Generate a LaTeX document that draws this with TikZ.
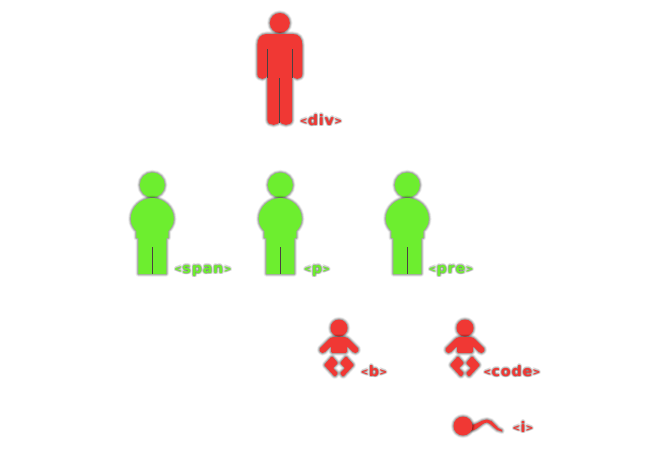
\documentclass[tikz,border=0pt]{standalone}
\usepackage{fontspec}
\setmainfont{DejaVu Sans}
\newfontfamily\tagfont[LetterSpace=5]{DejaVu Sans}
\definecolor{redperson}{RGB}{240,56,52}
\definecolor{greenperson}{RGB}{109,238,47}
\definecolor{splitline}{RGB}{75,65,65}
\tikzset{
 glow/.style={draw=none,
  preaction={draw=black,line join=round,line width=3.2pt,opacity=.04},
  preaction={draw=black,line join=round,line width=2.6pt,opacity=.06},
  preaction={draw=black,line join=round,line width=2.0pt,opacity=.09},
  preaction={draw=black,line join=round,line width=1.4pt,opacity=.11},
  preaction={draw=black,line join=round,line width=0.8pt,opacity=.13}},
 split/.style={draw=splitline,line width=0.5pt},
 tag/.style={font=\tagfont\bfseries\fontsize{8.2pt}{10pt}\selectfont,inner sep=0pt,anchor=base},
 pics/man/.style={code={
  \draw[glow,fill=#1](0,23) circle (10);
  \draw[glow,fill=#1](-13,34)--(13,34) .. controls (19,34) and (22.5,38) .. (22.5,45)--(22.5,74)
   .. controls (22.5,80.5) and (12.4,80.5) .. (12.4,74)--(12.4,120)
   .. controls (12.4,126.5) and (0,126.5) .. (0,120)
   .. controls (0,126.5) and (-12.4,126.5) .. (-12.4,120)--(-12.4,74)
   .. controls (-12.4,80.5) and (-22.5,80.5) .. (-22.5,74)--(-22.5,45) .. controls (-22.5,38) and (-19,34) .. (-13,34)--cycle;
  \draw[split](0,78)--(0,123);
  \draw[split](12.4,49)--(12.4,78);
  \draw[split](-12.4,49)--(-12.4,78);
 }},
 pics/kid/.style={code={
  \draw[glow,fill=greenperson](0,185) circle (12.5);
  \draw[glow,fill=greenperson](0,198) .. controls (11,198) and (21.5,207) .. (21.5,219)
   .. controls (21.5,225) and (18,229) .. (16,231)--(16,238)--(14,238)--(14,274)--(-14,274)--(-14,238)--(-16,238)--(-16,231)
   .. controls (-18,229) and (-21.5,225) .. (-21.5,219)
   .. controls (-21.5,207) and (-11,198) .. (0,198)--cycle;
  \draw[split](0,247)--(0,274);
 }},
 pics/baby/.style={code={
  \draw[glow,fill=redperson](0,328) circle (8.5);
  \draw[glow,fill=redperson,rounded corners=0.8pt](-7,337)--(7,337)--(10,339)--(20,349)--(18,353)--(15,353)--(8,346)
   --(8,353)--(-8,353)--(-8,346)--(-15,353)--(-18,353)--(-20,349)--(-10,339)--cycle;
  \draw[glow,fill=redperson,rounded corners=0.6pt](-7,356)--(-1,363)--(-6,368)--(-1,373)--(-4,377)--(-15,365)--cycle;
  \draw[glow,fill=redperson,rounded corners=0.6pt](7,356)--(1,363)--(6,368)--(1,373)--(4,377)--(15,365)--cycle;
 }}
}
\newcommand{\opn}{{\fontsize{5.6pt}{6pt}\selectfont\raisebox{0.5pt}{<}}}
\newcommand{\cls}{{\fontsize{5.6pt}{6pt}\selectfont\raisebox{0.5pt}{>}}}
\newcommand{\taglabel}[5]{
 \foreach \dx/\dy in {-1.2/0,1.2/0,0/-1.2,0/1.2,-1/-1,1/-1,-1/1,1/1}
  \node[tag,text=black,opacity=.11] at (#2+\dx,#3+\dy) {\opn#5\cls};
 \node[tag,text=#4] (#1) at (#2,#3) {\opn#5\cls};
}
\begin{document}
\begin{tikzpicture}[x=0.02cm,y=-0.02cm]
 \useasboundingbox (0,0) rectangle (650,450);
 \pic at (279.8,0) {man=redperson};
 \pic at (152.3,0) {kid};
 \pic at (280.3,0) {kid};
 \pic at (407.3,0) {kid};
 \pic at (339,0) {baby};
 \pic at (465,0) {baby};
 \draw[glow,fill=redperson](469,424) .. controls (476,427) and (480,419.5) .. (487,419.5)
  .. controls (494,419.5) and (496,429) .. (502,430) -- (502,431.5) .. controls (495,431.5) and (491,422.5) .. (487,422.5)
  .. controls (481,422.5) and (476,433) .. (469,430)--cycle;
 \draw[glow,fill=redperson](463,426) circle (9.5);
 \taglabel{divtag}{321}{125}{redperson}{div}
 \taglabel{spantag}{203}{273}{greenperson}{span}
 \taglabel{ptag}{317}{273}{greenperson}{p}
 \taglabel{pretag}{451}{273}{greenperson}{pre}
 \taglabel{btag}{374}{376}{redperson}{b}
 \taglabel{codetag}{512}{376}{redperson}{code}
 \taglabel{itag}{523}{432}{redperson}{i}
\end{tikzpicture}
\end{document}
